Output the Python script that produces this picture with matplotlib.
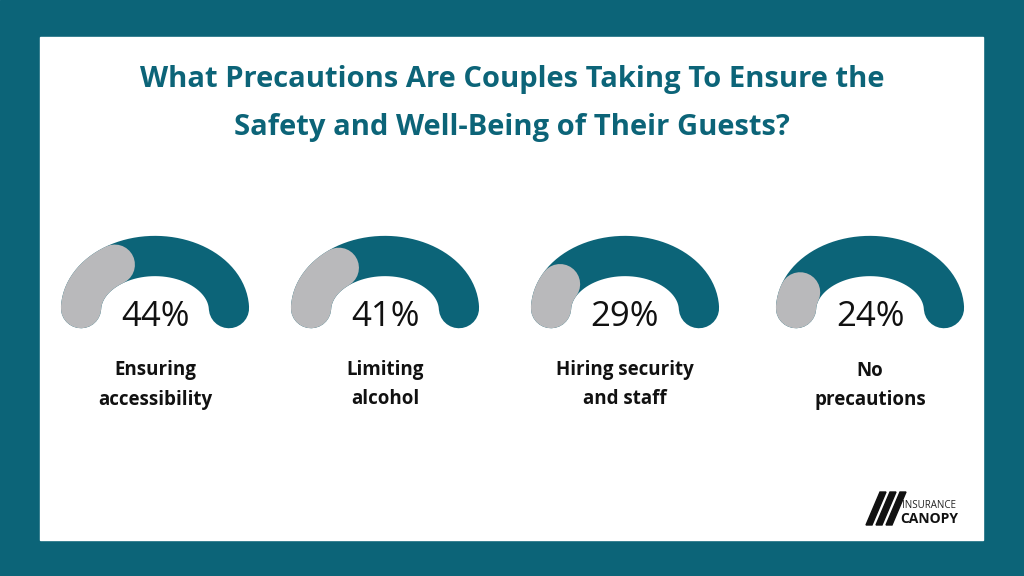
import numpy as np
import matplotlib.pyplot as plt
from matplotlib.patches import Rectangle

title_lines = ["What Precautions Are Couples Taking To Ensure the",
               "Safety and Well-Being of Their Guests?"]
labels = ["Ensuring\naccessibility", "Limiting\nalcohol", "Hiring security\nand staff", "No\nprecautions"]
values = [44, 41, 29, 24]

TEAL = "#0c6478"
GREY = "#b9b9bb"

fig = plt.figure(figsize=(10.24, 5.76), dpi=100)
ax = fig.add_axes([0, 0, 1, 1])
ax.set_xlim(0, 1024); ax.set_ylim(576, 0); ax.axis("off")
ax.add_patch(Rectangle((0, 0), 1024, 576, color=TEAL))
ax.add_patch(Rectangle((40, 37), 943, 503, color="white"))

for i, t in enumerate(title_lines):
    ax.text(512, 80 + i * 48, t, ha="center", va="center", color=TEAL,
            fontsize=21, fontweight="bold", family="Open Sans")

centers = [155, 385, 625, 870]
cy, rx, ry, lw = 310, 74, 54, 29
a0, a1 = 178, 2
for cx, v, lab in zip(centers, values, labels):
    th = np.radians(np.linspace(a0, a1, 200))
    ax.plot(cx + rx * np.cos(th), cy - ry * np.sin(th), color=TEAL, lw=lw,
            solid_capstyle="round")
    ge = a0 - 1.9 * (v - 15)
    th = np.radians(np.linspace(a0, ge, 100))
    ax.plot(cx + rx * np.cos(th), cy - ry * np.sin(th), color=GREY, lw=lw,
            solid_capstyle="round")
    ax.text(cx, 317, f"{v}%", ha="center", va="center", fontsize=25,
            family="Open Sans", color="#111111")
    ax.text(cx, 385, lab, ha="center", va="center", fontsize=13.5,
            fontweight="bold", family="Open Sans", color="#111111", linespacing=1.6)

# logo
ax.text(902, 506, "INSURANCE", fontsize=7, family="Open Sans", color="#222222", va="center")
ax.text(900, 519, "CANOPY", fontsize=10, fontweight="bold", family="Open Sans", color="#111111", va="center")
for k in range(3):
    x0 = 866 + k * 10
    ax.fill([x0, x0 + 6, x0 + 20, x0 + 14], [525, 525, 492, 492], color="#111111")

fig.savefig("out.png", dpi=100)
